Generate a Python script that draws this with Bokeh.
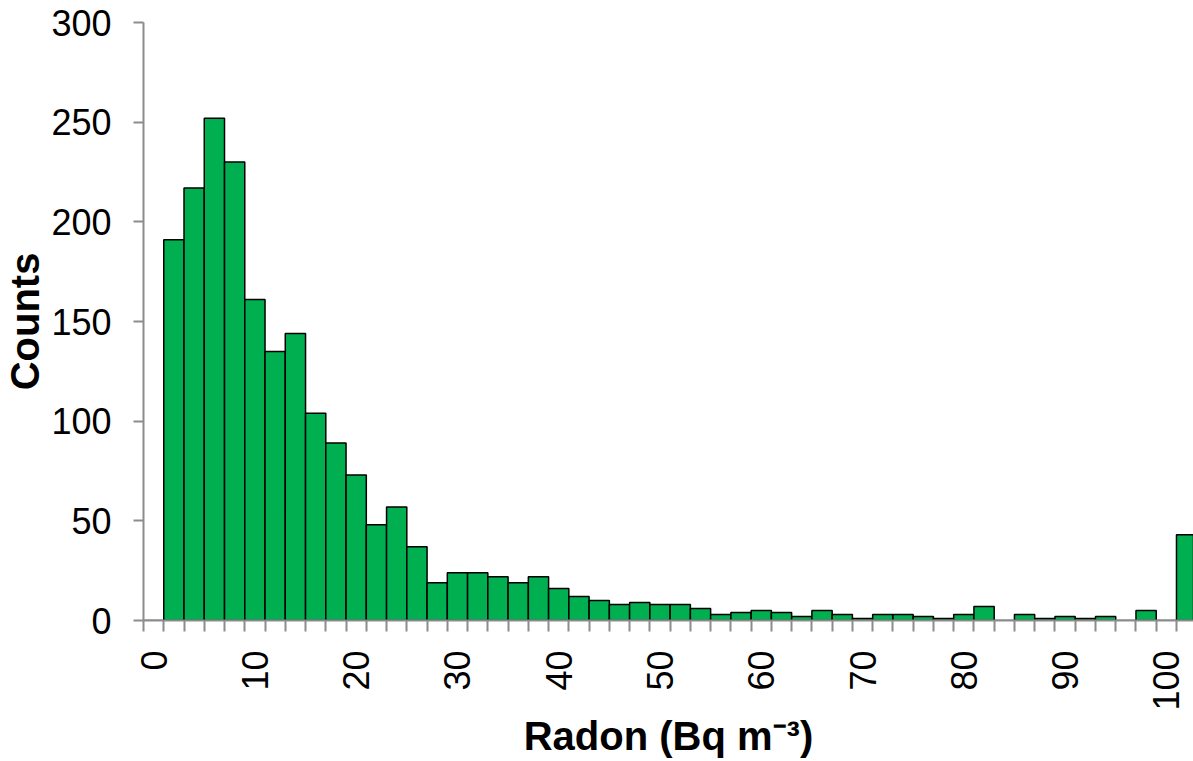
import math
from bokeh.plotting import figure
from bokeh.models import Range1d, FixedTicker, ColumnDataSource
from bokeh.embed import file_html
from bokeh.resources import INLINE

# Histogram bins (upper edges, Bq m-3) as category labels, plus overflow bin
categories = ["0", "2", "4", "6", "8", "10", "12", "14", "16", "18",
              "20", "22", "24", "26", "28", "30", "32", "34", "36", "38",
              "40", "42", "44", "46", "48", "50", "52", "54", "56", "58",
              "60", "62", "64", "66", "68", "70", "72", "74", "76", "78",
              "80", "82", "84", "86", "88", "90", "92", "94", "96", "98",
              "100", "More"]
counts = [0, 191, 217, 252, 230, 161, 135, 144, 104, 89,
          73, 48, 57, 37, 19, 24, 24, 22, 19, 22,
          16, 12, 10, 8, 9, 8, 8, 6, 3, 4,
          5, 4, 2, 5, 3, 1, 3, 3, 2, 1,
          3, 7, 0, 3, 1, 2, 1, 2, 0, 5,
          0, 43]
y_ticks = [0, 50, 100, 150, 200, 250, 300]
label_step = 5

FONT = "Liberation Sans"
AXIS_GREY = "#8c8c8c"

n = len(categories)
src = ColumnDataSource(dict(
    pos=[i + 0.5 for i in range(n)],
    count=counts,
    cat=categories,
))

p = figure(width=1193, height=761,
           x_range=Range1d(0, 51.84), y_range=Range1d(0, 300),
           output_backend="svg", toolbar_location=None,
           min_border_left=143, min_border_right=0,
           min_border_top=22, min_border_bottom=141)

p.vbar(x="pos", top="count", width=1, source=src,
       fill_color="#00B050", line_color="black", line_width=1.5)

# x axis: labels centred on every 5th category, ticks between categories
lab_pos = [i + 0.5 for i in range(0, n - 1, label_step)]
p.xaxis.ticker = FixedTicker(ticks=lab_pos, minor_ticks=list(range(0, n + 1)))
p.xaxis.major_label_overrides = {i + 0.5: categories[i] for i in range(0, n - 1, label_step)}
p.xaxis.major_tick_out = 0
p.xaxis.major_tick_in = 0
p.xaxis.minor_tick_out = 11
p.xaxis.minor_tick_in = 0
p.xaxis.minor_tick_line_color = AXIS_GREY
p.xaxis.minor_tick_line_width = 2
p.xaxis.major_label_orientation = math.pi / 2
p.xaxis.major_label_standoff = 19

# y axis
p.yaxis.ticker = FixedTicker(ticks=y_ticks, minor_ticks=[])
p.yaxis.major_tick_out = 10
p.yaxis.major_tick_in = 0
p.yaxis.major_tick_line_color = AXIS_GREY
p.yaxis.major_tick_line_width = 2
p.yaxis.major_label_standoff = 22

for ax in (p.xaxis[0], p.yaxis[0]):
    ax.axis_line_color = AXIS_GREY
    ax.axis_line_width = 2
    ax.major_label_text_font = FONT
    ax.major_label_text_font_size = "36px"
    ax.major_label_text_color = "black"
    ax.axis_label_text_font = FONT
    ax.axis_label_text_font_style = "bold"
    ax.axis_label_text_color = "black"

p.xaxis.axis_label = "Radon (Bq m\u207b\u00b3)"
p.yaxis.axis_label = "Counts"
p.xaxis.axis_label_text_font_size = "40px"
p.yaxis.axis_label_text_font_size = "40px"
p.xaxis.axis_label_standoff = 0
p.yaxis.axis_label_standoff = 1

p.xgrid.grid_line_color = None
p.ygrid.grid_line_color = None
p.outline_line_color = None
p.background_fill_color = "white"
p.border_fill_color = "white"

open("out.html", "w").write(file_html(p, INLINE))
